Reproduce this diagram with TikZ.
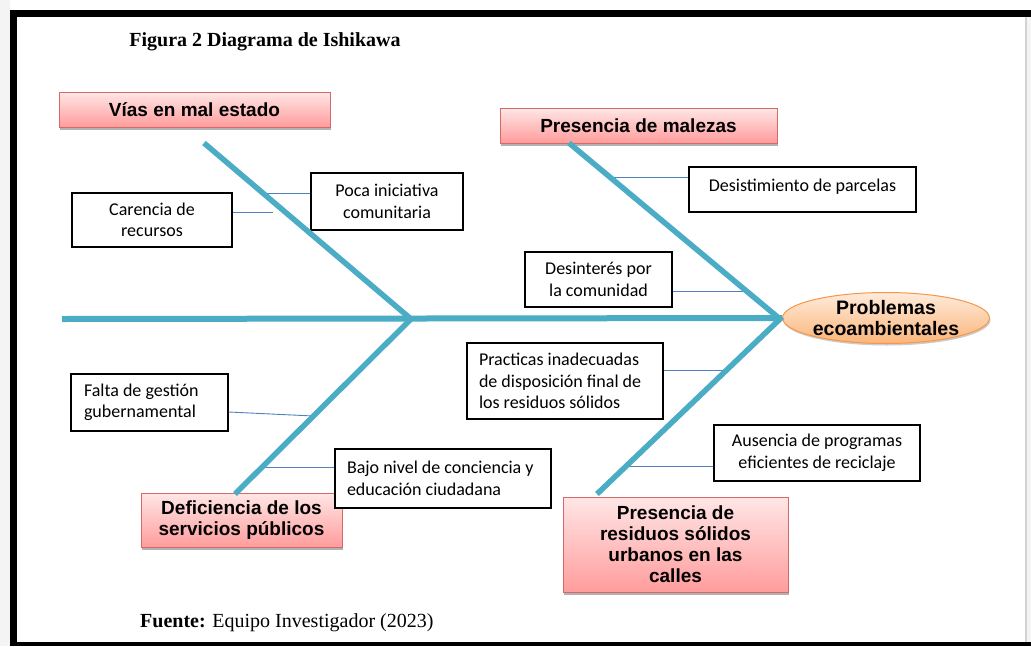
\documentclass[tikz,border=0pt]{standalone}
\usepackage{fontspec}
\setmainfont{Liberation Serif}
\newfontfamily\arialf{Liberation Sans}
\newfontfamily\calf{Carlito}
\usetikzlibrary{shapes.geometric,shadows,calc}
\definecolor{teal1}{HTML}{4BACC6}
\definecolor{conn}{HTML}{4F81BD}
\definecolor{pinktop}{HTML}{FFE6E6}
\definecolor{pinkbot}{HTML}{FF9C9C}
\definecolor{pinkdraw}{HTML}{D46A68}
\definecolor{orangetop}{HTML}{FEEBDB}
\definecolor{orangebot}{HTML}{FBB57A}
\definecolor{orangedraw}{HTML}{F79646}
\definecolor{outergrey}{HTML}{F4F4F4}
\definecolor{edgegrey}{HTML}{D2D2D2}
\begin{document}
\begin{tikzpicture}[x=1pt,y=-1pt,
  pinkbox/.style={draw=pinkdraw,line width=1pt,top color=pinktop,bottom color=pinkbot,
    font=\arialf\bfseries\fontsize{19}{21}\selectfont,align=center,inner sep=0pt,
    drop shadow={shadow xshift=1pt,shadow yshift=-3pt,fill=black,opacity=0.3}},
  causebox/.style={draw=black,line width=1.2pt,fill=white,
    font=\calf\fontsize{18}{21.5}\selectfont,inner sep=0pt},
  bone/.style={draw=teal1,line width=5.5pt},
  twig/.style={draw=conn,line width=0.9pt}]
\useasboundingbox (0,0) rectangle (1031,646);
% frame
\fill[white] (0,0) rectangle (1031,646);
\fill[outergrey] (0,0) rectangle (10,646);
\fill[outergrey] (1027,17) rectangle (1031,642);
\fill[edgegrey] (1025,17) rectangle (1027,642);
\fill[black] (10,10) rectangle (1031,17);
\fill[black] (10,10) rectangle (17,646);
\fill[black] (10,642) rectangle (1031,646);
% texts
\node[font=\bfseries\fontsize{20}{22}\selectfont] (title) at (265,42) {Figura 2 Diagrama de Ishikawa};
\node[font=\fontsize{20}{22}\selectfont,anchor=west,inner sep=0pt] (fuente) at (140,623) {\textbf{Fuente:} Equipo Investigador (2023)};
% main category boxes
\node[pinkbox,minimum width=271pt,minimum height=35pt] (vias) at (194.5,109.5) {Vías en mal estado};
\node[pinkbox,minimum width=277pt,minimum height=35pt] (malezas) at (638.5,125.5) {Presencia de malezas};
\node[pinkbox,minimum width=201pt,minimum height=54pt] (defic) at (241.5,520) {Deficiencia de los\\servicios públicos};
\node[pinkbox,minimum width=225pt,minimum height=95pt] (residuos) at (675.5,544.5) {Presencia de\\residuos sólidos\\urbanos en las\\calles};
\node[ellipse,draw=orangedraw,line width=1pt,top color=orangetop,bottom color=orangebot,
  minimum width=182pt,minimum height=51pt,inner sep=0pt,align=center,
  font=\arialf\bfseries\fontsize{19.5}{20.5}\selectfont,
  drop shadow={shadow xshift=1pt,shadow yshift=-2pt,fill=black,opacity=0.2}] (prob) at (886,318) {Problemas\\ecoambientales};
% cause boxes
\node[causebox,minimum width=160pt,minimum height=54pt,align=center] (carencia) at (152,220) {Carencia de\\recursos};
\node[causebox,minimum width=152pt,minimum height=57pt,align=center] (poca) at (387,201.5) {Poca iniciativa\\comunitaria};
\node[causebox,minimum width=227pt,minimum height=45pt,text height=10pt,text depth=7pt] (desist) at (802.5,189.5) {Desistimiento de parcelas};
\node[causebox,minimum width=147pt,minimum height=55pt,align=center] (desint) at (598.5,279.5) {Desinterés por\\la comunidad};
\node[causebox,minimum width=196pt,minimum height=76pt,text width=172pt,align=flush left] (practicas) at (565,381) {\mbox{Practicas inadecuadas}\\\mbox{de disposición final de}\\\mbox{los residuos sólidos}};
\node[causebox,minimum width=206pt,minimum height=56pt,align=center] (ausencia) at (817,453) {Ausencia de programas\\eficientes de reciclaje};
\node[causebox,minimum width=157pt,minimum height=57pt,text width=131pt,align=flush left] (falta) at (149.5,402.5) {\mbox{Falta de gestión}\\\mbox{gubernamental}};
\node[causebox,minimum width=216pt,minimum height=59pt,text width=192pt,align=flush left] (bajo) at (443,478.5) {\mbox{Bajo nivel de conciencia y}\\\mbox{educación ciudadana}};
% skeleton points
\coordinate (S0) at (62,319);
\coordinate (J1) at (411,319);
\coordinate (J2) at (780,319);
\coordinate (LT) at (204,143);
\coordinate (LB) at (235,494);
\coordinate (RT) at (569,143);
\coordinate (RB) at (597,494);
% twigs
\coordinate (tP) at ($(LT)!{50/176}!(J1)$);
\coordinate (tC) at (273,212);
\coordinate (tD) at ($(RT)!{34/176}!(J2)$);
\coordinate (tI) at ($(RT)!{148/176}!(J2)$);
\coordinate (tPr) at ($(J2)!{51/175}!(RB)$);
\coordinate (tA) at ($(J2)!{147/175}!(RB)$);
\coordinate (tF) at ($(J1)!{97/175}!(LB)$);
\coordinate (tB) at ($(J1)!{148/175}!(LB)$);
\draw[twig] (tP) -- (tP -| poca.west);
\draw[twig] (tC -| carencia.east) -- (tC);
\draw[twig] (tD) -- (tD -| desist.west);
\draw[twig] (desint.east |- tI) -- (tI);
\draw[twig] (practicas.east |- tPr) -- (tPr);
\draw[twig] (tA) -- (tA -| ausencia.west);
\draw[twig] ([yshift=-9.5pt]falta.east) -- (tF);
\draw[twig] (tB) -- (tB -| bajo.west);
% bones
\draw[bone,line width=6pt] (S0) -- (prob.west);
\draw[bone] (LT) -- (J1) -- (LB);
\draw[bone] (RT) -- (J2) -- (RB);
\end{tikzpicture}
\end{document}
